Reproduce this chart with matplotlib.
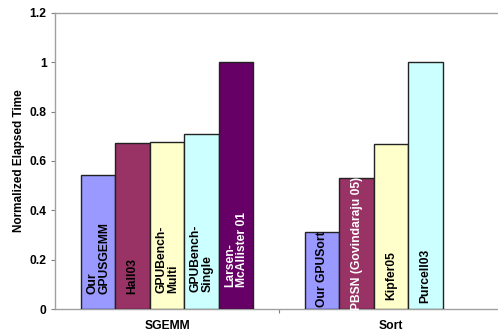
import numpy as np
import matplotlib
matplotlib.use('Agg')
import matplotlib.pyplot as plt
from matplotlib.ticker import FuncFormatter

plt.rcParams['font.family'] = ['Liberation Sans', 'DejaVu Sans']
plt.rcParams['font.weight'] = 'bold'

groups = ['SGEMM', 'Sort']

sgemm_labels = ['Our\nGPUSGEMM', 'Hall03', 'GPUBench-\nMulti', 'GPUBench-\nSingle',
                'Larsen-\nMcAllister 01']
sgemm_values = [0.544, 0.672, 0.676, 0.711, 1.0]

sort_labels = ['Our GPUSort', 'PBSN (Govindaraju 05)', 'Kipfer05', 'Purcell03']
sort_values = [0.311, 0.530, 0.668, 1.0]

colors = ['#9999FF', '#993366', '#FFFFCC', '#CCFFFF', '#660066']
text_colors = ['black', 'black', 'black', 'black', 'white']
sort_text_colors = ['black', 'white', 'black', 'black']

# where the rotated labels start (bottom, in data units)
sgemm_label_y = [0.06, 0.06, 0.065, 0.068, 0.088]
sort_label_y = [0.008, -0.004, 0.036, 0.024]

fig = plt.figure(figsize=(4.98, 3.35), dpi=100)
ax = fig.add_axes([55 / 498, 26 / 335, 443 / 498, 296 / 335])

width = 34.5 / 224
offset = -0.384

for i, (v, lab) in enumerate(zip(sgemm_values, sgemm_labels)):
    x = 0 + offset + i * width
    ax.bar(x, v, width=width, align='edge', color=colors[i],
           edgecolor='#222222', linewidth=1.0, zorder=3)
    ax.text(x + width / 2, sgemm_label_y[i], lab, rotation=90, ha='center',
            va='bottom', multialignment='left', fontsize=8.7,
            fontweight='bold', color=text_colors[i], zorder=4,
            linespacing=1.0)

for i, (v, lab) in enumerate(zip(sort_values, sort_labels)):
    x = 1 + offset + i * width
    ax.bar(x, v, width=width, align='edge', color=colors[i],
           edgecolor='#222222', linewidth=1.0, zorder=3)
    ax.text(x + width / 2, sort_label_y[i], lab, rotation=90, ha='center',
            va='bottom', fontsize=8.7, fontweight='bold',
            color=sort_text_colors[i], zorder=4)

ax.set_xlim(-0.5, 1.5 - 5 / 224)
ax.set_ylim(0, 1.2)
ax.set_yticks(np.arange(0, 1.21, 0.2))
ax.yaxis.set_major_formatter(FuncFormatter(lambda v, p: '%g' % round(v, 1)))
ax.set_xticks([0.5])
ax.set_xticklabels([''])
for i, g in enumerate(groups):
    ax.text(i, -0.045, g, ha='center', va='top', fontsize=8.7,
            fontweight='bold', transform=ax.transData, clip_on=False)

ax.set_ylabel('Normalized Elapsed Time', fontsize=8.5, fontweight='bold',
              labelpad=3)
ax.tick_params(axis='y', length=3, color='#808080', labelsize=8.7, pad=3)
ax.tick_params(axis='x', length=3, color='#808080')
for lbl in ax.get_yticklabels():
    lbl.set_fontweight('bold')

for s in ['left', 'bottom', 'top']:
    ax.spines[s].set_color('#a0a0a0')
    ax.spines[s].set_linewidth(1.0)
ax.spines['right'].set_visible(False)

fig.savefig('out.png', dpi=100)
